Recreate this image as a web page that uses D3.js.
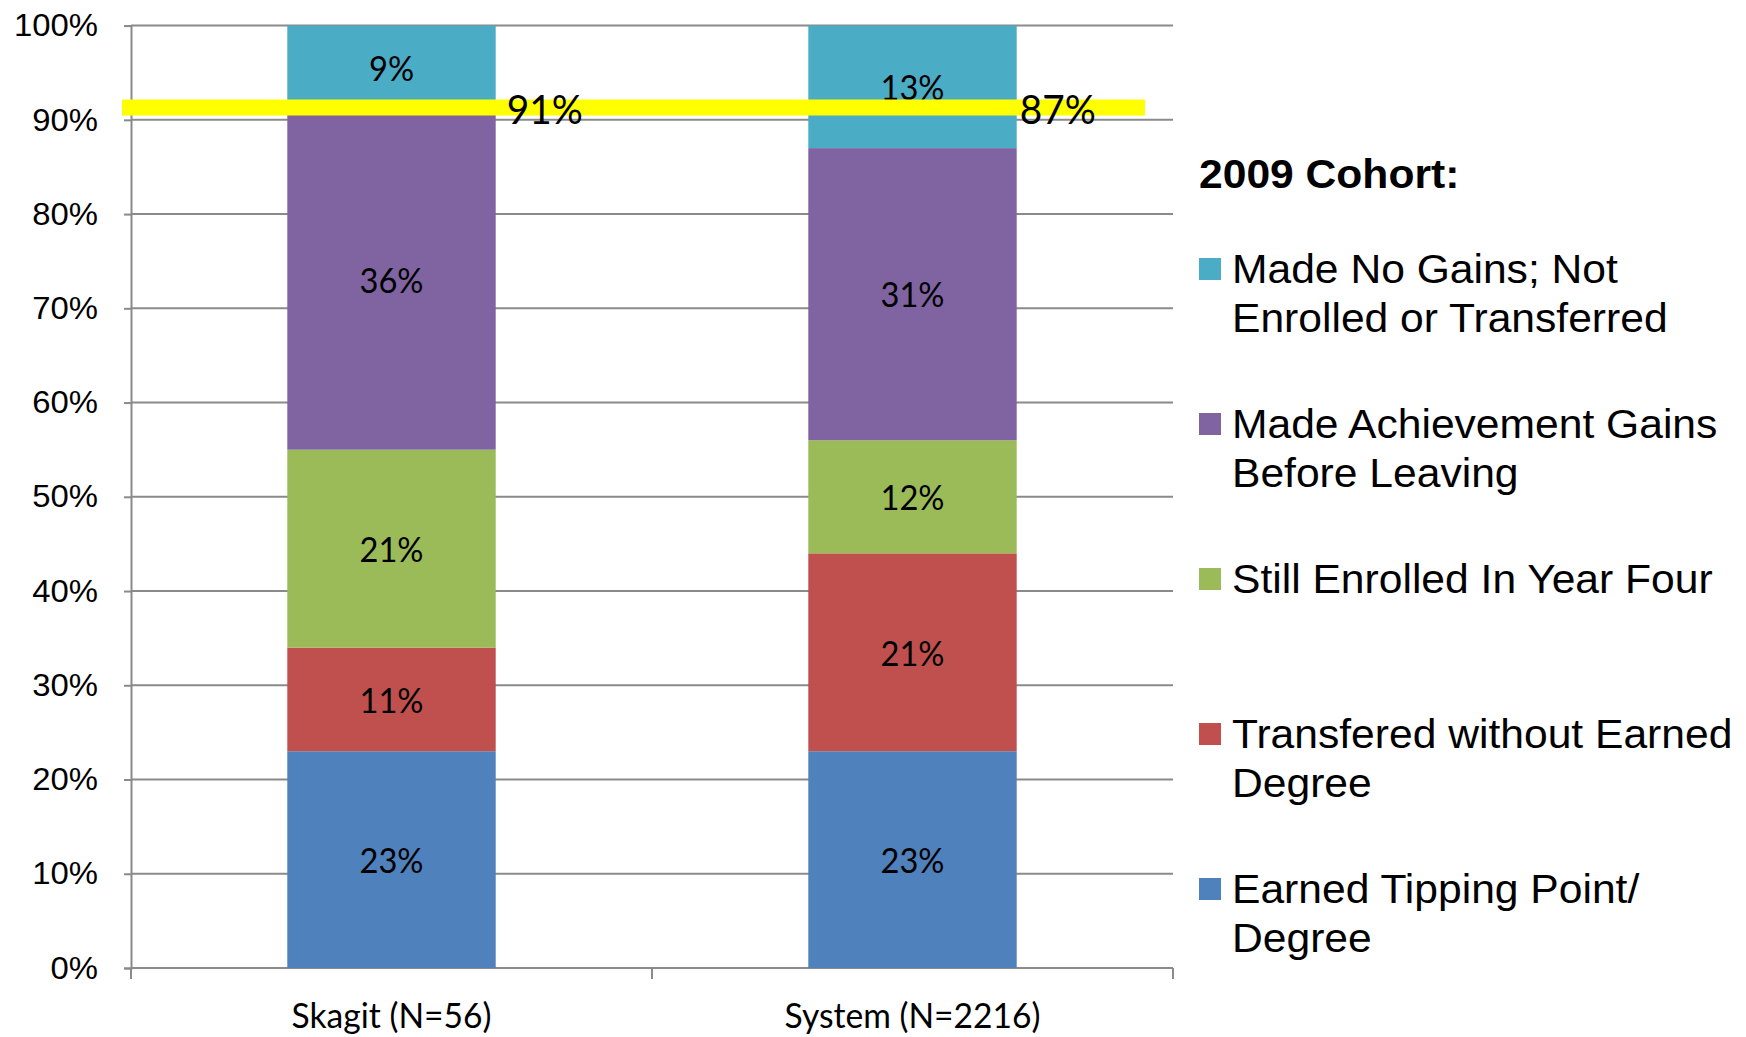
<!DOCTYPE html>
<html>
<head>
<meta charset="utf-8">
<script src="https://cdn.jsdelivr.net/npm/d3@7"></script>
<style>
html,body{margin:0;padding:0;background:#fff;}
svg{display:block;}
</style>
</head>
<body>
<svg id="chart" width="1746" height="1037"></svg>
<script>
// ---- data ----
const categories = ["Skagit (N=56)", "System (N=2216)"];
const seriesKeys = ["earned", "transfered", "still", "gains", "nogains"]; // bottom -> top
const earnedValues = [23, 23];
const transferedValues = [11, 21];
const stillEnrolledValues = [21, 12];
const achievementValues = [36, 31];
const noGainsValues = [9, 13];
const seriesColors = ["#4F81BD", "#C0504D", "#9BBB59", "#8064A2", "#4BACC6"];
const legendTitle = "2009 Cohort:";
const legendLabels = [
  ["Made No Gains; Not", "Enrolled or Transferred"],
  ["Made Achievement Gains", "Before Leaving"],
  ["Still Enrolled In Year Four"],
  ["Transfered without Earned", "Degree"],
  ["Earned Tipping Point/", "Degree"]
];
const legendKeys = ["nogains", "gains", "still", "transfered", "earned"];
const yTicks = [0, 10, 20, 30, 40, 50, 60, 70, 80, 90, 100];
const highlightLevel = 91.3;

const rows = categories.map((c, i) => ({
  cat: c,
  earned: earnedValues[i],
  transfered: transferedValues[i],
  still: stillEnrolledValues[i],
  gains: achievementValues[i],
  nogains: noGainsValues[i]
}));

// ---- layout ----
const svg = d3.select("#chart");
const plot = {left: 131, right: 1173, top: 25.6, bottom: 968};
const sx = 1.065;
const totalLabelGap = [11, 3];
const calibriLike = "Lato, Carlito, Calibri, sans-serif";
const arialLike = "Liberation Sans, Arial, sans-serif";

const x = d3.scaleBand().domain(categories).range([plot.left, plot.right])
  .paddingInner(0.6).paddingOuter(0.3);
const y = d3.scaleLinear().domain([0, 100]).range([plot.bottom, plot.top]);
const color = d3.scaleOrdinal().domain(seriesKeys).range(seriesColors);

function stretched(sel, px, py, s) {
  return sel.attr("transform", `translate(${px},${py}) scale(${s},1)`);
}

// gridlines + y axis
const yAxis = d3.axisLeft(y).tickValues(yTicks).tickSize(7).tickFormat(() => "");
const gy = svg.append("g").attr("transform", `translate(${plot.left},0)`).call(yAxis);
gy.select(".domain").attr("stroke", "#8a8a8a").attr("stroke-width", 2);
gy.selectAll(".tick line").attr("stroke", "#8a8a8a").attr("stroke-width", 2);

svg.append("g").selectAll("line").data(yTicks).join("line")
  .attr("x1", plot.left).attr("x2", plot.right)
  .attr("y1", d => y(d)).attr("y2", d => y(d))
  .attr("stroke", "#8a8a8a").attr("stroke-width", 2);

svg.append("g").selectAll("text").data(yTicks).join("text")
  .each(function(d){ stretched(d3.select(this), 98, y(d), 1.06); })
  .attr("text-anchor", "end").attr("dominant-baseline", "central")
  .attr("font-family", arialLike).attr("font-size", 31)
  .attr("fill", "#000").text(d => d + "%");

// x axis ticks (category boundaries)
const xBounds = [plot.left, (x(categories[0]) + x.bandwidth() + x(categories[1])) / 2, plot.right];
svg.append("g").selectAll("line").data(xBounds).join("line")
  .attr("x1", d => d).attr("x2", d => d)
  .attr("y1", plot.bottom).attr("y2", plot.bottom + 11)
  .attr("stroke", "#8a8a8a").attr("stroke-width", 2);

// stacked bars
const stacked = d3.stack().keys(seriesKeys)(rows);
const layers = svg.append("g").selectAll("g").data(stacked).join("g")
  .attr("fill", d => color(d.key));
layers.selectAll("rect").data(d => d).join("rect")
  .attr("x", d => x(d.data.cat))
  .attr("width", x.bandwidth())
  .attr("y", d => y(d[1]))
  .attr("height", d => y(d[0]) - y(d[1]));

// segment labels
layers.selectAll("text").data(d => d.map(v => ({v, key: d.key}))).join("text")
  .each(function(d){ stretched(d3.select(this), x(d.v.data.cat) + x.bandwidth()/2, y((d.v[0] + d.v[1]) / 2), 0.96); })
  .attr("text-anchor", "middle").attr("dominant-baseline", "central")
  .attr("font-family", calibriLike).attr("font-size", 34)
  .attr("fill", "#000").text(d => (d.v[1] - d.v[0]) + "%");

// highlight line
svg.append("line")
  .attr("x1", plot.left - 9).attr("x2", plot.right - 28)
  .attr("y1", y(highlightLevel)).attr("y2", y(highlightLevel))
  .attr("stroke", "#FFFF00").attr("stroke-width", 16);

// totals excluding "made no gains"
svg.append("g").selectAll("text").data(rows).join("text")
  .each(function(d, i){ stretched(d3.select(this), x(d.cat) + x.bandwidth() + totalLabelGap[i], y(highlightLevel) + 1, 0.97); })
  .attr("text-anchor", "start").attr("dominant-baseline", "central")
  .attr("font-family", calibriLike).attr("font-size", 40)
  .attr("fill", "#000").text(d => (100 - d.nogains) + "%");

// category labels
svg.append("g").selectAll("text").data(categories).join("text")
  .each(function(d){ stretched(d3.select(this), x(d) + x.bandwidth()/2, 1014, 0.96); })
  .attr("text-anchor", "middle").attr("dominant-baseline", "central")
  .attr("font-family", calibriLike).attr("font-size", 35)
  .attr("fill", "#000").text(d => d);

// legend
const lg = svg.append("g");
stretched(lg.append("text"), 1199, 188, sx)
  .attr("font-family", arialLike).attr("font-size", 40)
  .attr("font-weight", "bold").attr("fill", "#000").text(legendTitle);

const entries = lg.selectAll("g.entry").data(legendKeys).join("g").attr("class", "entry");
entries.append("rect")
  .attr("x", 1199).attr("y", (d, i) => 283 + i * 155 - 25)
  .attr("width", 22).attr("height", 22)
  .attr("fill", d => color(d));
entries.each(function(d, i) {
  const t = d3.select(this).append("text");
  stretched(t, 1232, 283 + i * 155, sx)
    .attr("font-family", arialLike).attr("font-size", 40)
    .attr("fill", "#000");
  legendLabels[i].forEach((line, j) => {
    t.append("tspan").attr("x", 0).attr("y", j * 49).text(line);
  });
});
</script>
</body>
</html>
